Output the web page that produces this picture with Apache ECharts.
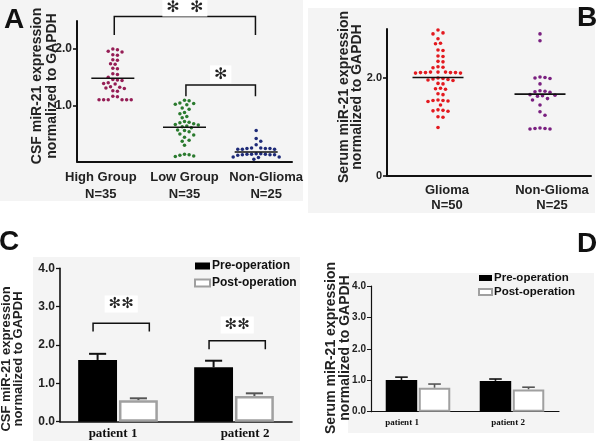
<!DOCTYPE html>
<html><head><meta charset="utf-8">
<script src="https://cdn.jsdelivr.net/npm/echarts@6/dist/echarts.min.js"></script>
<style>html,body{margin:0;padding:0;background:#fff}#c{width:600px;height:441px}</style>
</head><body><div id="c"></div>
<script>
// ---------- DATA ----------
// Panel A (CSF, scatter)
const catsA = ['High Group', 'Low Group', 'Non-Glioma'];
const nA = ['N=35', 'N=35', 'N=25'];
const highGroup = [2.00,1.99,1.96,1.95,1.90,1.89,1.81,1.80,1.74,1.73,1.66,1.65,1.56,1.55,1.50,1.46,1.45,1.44,1.40,1.39,1.38,1.33,1.32,1.31,1.30,1.26,1.25,1.16,1.15,1.10,1.10,1.10,1.10,1.10,1.10];
const lowGroup = [1.09,1.08,1.04,1.03,1.02,1.01,0.95,0.93,0.87,0.85,0.80,0.78,0.71,0.70,0.69,0.67,0.66,0.65,0.63,0.62,0.60,0.56,0.55,0.53,0.49,0.47,0.43,0.38,0.36,0.29,0.13,0.12,0.11,0.10,0.09];
const nonGliomaA = [0.55,0.41,0.36,0.30,0.24,0.24,0.23,0.23,0.23,0.22,0.22,0.22,0.14,0.14,0.13,0.13,0.13,0.12,0.12,0.12,0.11,0.08,0.08,0.07,0.04];
const meansA = [1.48, 0.61, 0.17];
const yTicksA = [1, 2];
// Panel B (Serum, scatter)
const catsB = ['Glioma', 'Non-Glioma'];
const nB = ['N=50', 'N=25'];
const glioma = [2.98,2.92,2.90,2.80,2.71,2.70,2.57,2.56,2.45,2.44,2.34,2.33,2.23,2.22,2.21,2.12,2.12,2.11,2.11,2.11,2.11,2.10,2.10,2.12,2.00,1.99,1.98,1.97,1.96,1.95,1.89,1.88,1.79,1.78,1.77,1.68,1.66,1.55,1.54,1.54,1.53,1.52,1.45,1.35,1.34,1.33,1.32,1.21,1.20,0.99];
const nonGliomaB = [2.90,2.76,2.02,2.01,2.00,1.99,1.88,1.74,1.73,1.72,1.71,1.66,1.65,1.64,1.63,1.58,1.55,1.45,1.31,1.24,0.98,0.97,0.96,0.96,0.97];
const meansB = [2.01, 1.67];
const yTicksB = [0, 2];
// Panel C (CSF, bars)
const patients = ['patient 1', 'patient 2'];
const preC = [1.61, 1.42], preCsem = [0.16, 0.17];
const postC = [0.56, 0.67], postCsem = [0.05, 0.07];
// Panel D (Serum, bars)
const preD = [1.01, 0.98], preDsem = [0.09, 0.06];
const postD = [0.76, 0.71], postDsem = [0.12, 0.07];
// significance brackets: [fromCat, toCat, topValue, legBottomValue, starValue, label]
const bracketsA = [[0, 2, 2.58, 2.25, 2.74, '\u273B  \u273B'], [1, 2, 1.36, 1.16, 1.55, '\u273B']];
const bracketsC = [[0, 0, 2.57, 2.35, 3.07, '\u273B\u273B'], [1, 1, 2.11, 1.89, 2.52, '\u273B\u273B']];

// ---------- RENDER ----------
const FF = '"Liberation Sans", Arial, sans-serif';
const SERIF = '"Liberation Serif", "Times New Roman", serif';
const chart = echarts.init(document.getElementById('c'), null, {renderer: 'canvas'});

// horizontal nudges (px) of the category labels, as in the original figure
const shiftA = [-12, 0, 10], shiftB = [9, 12], shiftC = [-5, 11], shiftD = [-16, -4];
function labelItems(texts, shifts) {
  return texts.map((t, i) => ({value: t, textStyle: {padding: shifts[i] > 0 ? [0, 0, 0, 2 * shifts[i]] : [0, -2 * shifts[i], 0, 0]}}));
}

function swarm(vals, ppu, d) {
  const order = vals.map((v, i) => i).sort((a, b) => vals[b] - vals[a]);
  const placed = [], off = [];
  for (const i of order) {
    const y = vals[i] * ppu;
    let k = 0, x = 0;
    while (k < 200) {
      x = k === 0 ? 0 : (k % 2 === 1 ? 1 : -1) * Math.ceil(k / 2) * d * 0.5;
      if (placed.every(p => (p[0] - x) ** 2 + (p[1] - y) ** 2 >= d * d * 0.97)) break;
      k++;
    }
    placed.push([x, y]); off[i] = x;
  }
  return off;
}
const cache = {};
function swarmSeries(groups, colors, d, r, xi) {
  const data = [];
  groups.forEach((vals, g) => vals.forEach((v, i) => data.push([g, v, i])));
  return {
    type: 'custom', xAxisIndex: xi, yAxisIndex: xi, data, clip: false,
    encode: {x: 0, y: 1},
    renderItem(params, api) {
      const g = api.value(0), v = api.value(1), i = api.value(2);
      const key = xi + '_' + g;
      if (!cache[key]) {
        const ppu = api.coord([0, 0])[1] - api.coord([0, 1])[1];
        cache[key] = swarm(groups[g], ppu, d);
      }
      const c = api.coord([g, v]);
      return {type: 'circle', shape: {cx: c[0] + cache[key][i], cy: c[1], r}, style: {fill: colors[g]}};
    }
  };
}
function meanSeries(means, frac, xi) {
  return {
    type: 'custom', xAxisIndex: xi, yAxisIndex: xi, clip: false,
    data: means.map((m, g) => [g, m]), encode: {x: 0, y: 1}, z: 3,
    renderItem(params, api) {
      const c = api.coord([api.value(0), api.value(1)]);
      const hw = api.size([1, 0])[0] * frac;
      return {type: 'line', shape: {x1: c[0] - hw, y1: c[1], x2: c[0] + hw, y2: c[1]}, style: {stroke: '#111', lineWidth: 1.6}};
    }
  };
}
function bracketSeries(list, xi, lfrac, rfrac, fontSize, lw) {
  return {
    type: 'custom', xAxisIndex: xi, yAxisIndex: xi, clip: false, z: 4,
    data: list.map(b => b.slice(0, 5)), encode: {x: 0, y: 2},
    renderItem(params, api) {
      const b = list[params.dataIndex];
      const band = api.size([1, 0])[0];
      const x1 = api.coord([b[0], 0])[0] + lfrac * band;
      const x2 = api.coord([b[1], 0])[0] + rfrac * band;
      const yt = api.coord([0, b[2]])[1], yb = api.coord([0, b[3]])[1], ys = api.coord([0, b[4]])[1];
      return {type: 'group', children: [
        {type: 'polyline', shape: {points: [[x1, yb], [x1, yt], [x2, yt], [x2, yb]]}, style: {stroke: '#111', lineWidth: lw, fill: null}},
        {type: 'text', x: (x1 + x2) / 2, y: ys, style: {text: b[5], fontSize, fontFamily: '"DejaVu Sans"', fill: '#222', align: 'center', verticalAlign: 'middle', backgroundColor: '#fff', padding: [1, 4]}}
      ]};
    }
  };
}
const BW = 0.335, GAP = 0.05;
function errSeries(pre, preSem, post, postSem, xi, capFrac, lw) {
  const data = [];
  pre.forEach((m, g) => data.push([g, m, preSem[g], 0]));
  post.forEach((m, g) => data.push([g, m, postSem[g], 1]));
  return {
    type: 'custom', xAxisIndex: xi, yAxisIndex: xi, data, z: 1, encode: {x: 0, y: 1},
    renderItem(params, api) {
      const g = api.value(0), m = api.value(1), s = api.value(2), side = api.value(3);
      const band = api.size([1, 0])[0];
      const bw = band * BW;
      const x = api.coord([g, m])[0] + (side ? 1 : -1) * bw * (1 + GAP) / 2;
      const y0 = api.coord([g, m])[1], y1 = api.coord([g, m + s])[1];
      const hc = bw * capFrac;
      const col = side ? '#555' : '#111';
      return {type: 'group', children: [
        {type: 'line', shape: {x1: x, y1: y0, x2: x, y2: y1}, style: {stroke: col, lineWidth: lw}},
        {type: 'line', shape: {x1: x - hc, y1: y1, x2: x + hc, y2: y1}, style: {stroke: col, lineWidth: lw}}
      ]};
    }
  };
}
function catAxis(gi, data, labelOpt, lw, tickLen) {
  return {type: 'category', gridIndex: gi, data, boundaryGap: true,
    axisLine: {lineStyle: {color: '#111', width: lw}},
    axisTick: {alignWithLabel: true, length: tickLen, lineStyle: {color: '#111', width: lw * 0.8}},
    axisLabel: Object.assign({color: '#222', fontWeight: 'bold', fontFamily: FF, interval: 0, hideOverlap: false}, labelOpt),
    splitLine: {show: false}};
}
function valAxis(gi, max, interval, custom, fmt, fs, lw) {
  const ax = {type: 'value', gridIndex: gi, min: 0, max, interval,
    axisLine: {show: true, lineStyle: {color: '#111', width: lw}},
    axisTick: {show: true, length: 4, lineStyle: {color: '#111', width: lw * 0.8}},
    axisLabel: {color: '#222', fontWeight: 'bold', fontFamily: FF, fontSize: fs, margin: 5, formatter: fmt},
    splitLine: {show: false}};
  if (custom) { ax.axisTick.customValues = custom; ax.axisLabel.customValues = custom; }
  return ax;
}
const fmt1 = v => v.toFixed(1);
const fmtB = v => v === 0 ? '0' : v.toFixed(1);

const option = {
  animation: false,
  backgroundColor: '#fff',
  grid: [
    {left: 77, top: 21, width: 215, height: 140.5, outerBoundsMode: 'none'},
    {left: 387, top: 29, width: 204, height: 147, outerBoundsMode: 'none'},
    {left: 60, top: 268.3, width: 232, height: 153.4, outerBoundsMode: 'none'},
    {left: 371, top: 286, width: 188, height: 125.7, outerBoundsMode: 'none'}
  ],
  xAxis: [
    catAxis(0, labelItems(catsA.map((c, i) => c + '\n' + nA[i]), shiftA), {fontSize: 13, lineHeight: 17, margin: 7}, 2, 5),
    catAxis(1, labelItems(catsB.map((c, i) => c + '\n' + nB[i]), shiftB), {fontSize: 13, lineHeight: 15, margin: 7}, 2, 4),
    catAxis(2, labelItems(patients, shiftC), {fontSize: 13, fontFamily: SERIF, color: '#111', margin: 5}, 1.6, 4),
    catAxis(3, labelItems(patients, shiftD), {fontSize: 9, fontFamily: SERIF, color: '#111', margin: 6}, 1.2, 3)
  ],
  yAxis: [
    valAxis(0, 2.5, 1, yTicksA, fmt1, 12, 2),
    valAxis(1, 3, 1, yTicksB, fmtB, 11, 2),
    valAxis(2, 4, 1, null, fmt1, 12, 1.6),
    valAxis(3, 4, 1, null, fmt1, 10, 1.2)
  ],
  legend: [
    {left: 194, top: 260, padding: 0, orient: 'vertical', itemWidth: 15, itemHeight: 7, itemGap: 5,
     data: ['Pre-operation', 'Post-operation'], icon: 'rect', selectedMode: false,
     textStyle: {fontSize: 12, fontWeight: 'bold', fontFamily: FF, color: '#111', padding: [0, 0, 0, -3]}},
    {left: 478, top: 272, padding: 0, orient: 'vertical', itemWidth: 13, itemHeight: 6, itemGap: 2,
     data: ['Pre-operation', 'Post-operation'], icon: 'rect', selectedMode: false,
     textStyle: {fontSize: 11.5, fontWeight: 'bold', fontFamily: FF, color: '#111', padding: [0, 0, 0, -3]}}
  ],
  graphic: [
    {type: 'rect', z: -10, shape: {x: 0, y: 0, width: 303, height: 201}, style: {fill: '#f4f4f4'}},
    {type: 'rect', z: -10, shape: {x: 308, y: 8, width: 287, height: 205}, style: {fill: '#f4f4f4'}},
    {type: 'rect', z: -10, shape: {x: 33, y: 257, width: 267, height: 184}, style: {fill: '#f4f4f4'}},
    {type: 'rect', z: -10, shape: {x: 348, y: 273, width: 246, height: 160}, style: {fill: '#f4f4f4'}},
    {type: 'text', x: 44.5, y: 86, rotation: Math.PI / 2, style: {text: 'CSF miR-21 expression\nnormalized to GAPDH', font: 'bold 14px ' + FF, fill: '#222', align: 'center', verticalAlign: 'middle', lineHeight: 15}},
    {type: 'text', x: 350.5, y: 97, rotation: Math.PI / 2, style: {text: 'Serum miR-21 expression\nnormalized to GAPDH', font: 'bold 14px ' + FF, fill: '#222', align: 'center', verticalAlign: 'middle', lineHeight: 13.5}},
    {type: 'text', x: 12.5, y: 359, rotation: Math.PI / 2, style: {text: 'CSF miR-21 expression\nnormalized to GAPDH', font: 'bold 13px ' + FF, fill: '#222', align: 'center', verticalAlign: 'middle', lineHeight: 12.5}},
    {type: 'text', x: 338, y: 348, rotation: Math.PI / 2, style: {text: 'Serum miR-21 expression\nnormalized to GAPDH', font: 'bold 14px ' + FF, fill: '#222', align: 'center', verticalAlign: 'middle', lineHeight: 14}},
    {type: 'text', x: 14, y: 20, style: {text: 'A', font: 'bold 28px ' + FF, fill: '#111', align: 'center', verticalAlign: 'middle'}},
    {type: 'text', x: 587, y: 18, style: {text: 'B', font: 'bold 28px ' + FF, fill: '#111', align: 'center', verticalAlign: 'middle'}},
    {type: 'text', x: 9, y: 242, style: {text: 'C', font: 'bold 28px ' + FF, fill: '#111', align: 'center', verticalAlign: 'middle'}},
    {type: 'text', x: 587, y: 244, style: {text: 'D', font: 'bold 28px ' + FF, fill: '#111', align: 'center', verticalAlign: 'middle'}}
  ],
  series: [
    swarmSeries([highGroup, lowGroup, nonGliomaA], ['#951d55', '#2a7a2e', '#1e2a78'], 4.6, 1.75, 0),
    meanSeries(meansA, 0.3, 0),
    bracketSeries(bracketsA, 0, 0.02, -0.01, 16, 1.5),
    swarmSeries([glioma, nonGliomaB], ['#e3191f', '#7a2080'], 5.0, 1.8, 1),
    meanSeries(meansB, 0.25, 1),
    {type: 'bar', name: 'Pre-operation', xAxisIndex: 2, yAxisIndex: 2, data: preC, barWidth: (BW * 100) + '%', barGap: (GAP * 100) + '%', itemStyle: {color: '#000'}, z: 2},
    {type: 'bar', name: 'Post-operation', xAxisIndex: 2, yAxisIndex: 2, data: postC, barWidth: (BW * 100) + '%', barGap: (GAP * 100) + '%', itemStyle: {color: '#fff', borderColor: '#a0a0a0', borderWidth: 2.5}, z: 2},
    errSeries(preC, preCsem, postC, postCsem, 2, 0.22, 2),
    bracketSeries(bracketsC, 2, -0.215, 0.27, 15, 1.5),
    {type: 'bar', name: 'Pre-operation', xAxisIndex: 3, yAxisIndex: 3, data: preD, barWidth: (BW * 100) + '%', barGap: (GAP * 100) + '%', itemStyle: {color: '#000'}, z: 2},
    {type: 'bar', name: 'Post-operation', xAxisIndex: 3, yAxisIndex: 3, data: postD, barWidth: (BW * 100) + '%', barGap: (GAP * 100) + '%', itemStyle: {color: '#fff', borderColor: '#a0a0a0', borderWidth: 2}, z: 2},
    errSeries(preD, preDsem, postD, postDsem, 3, 0.2, 1.6)
  ]
};
chart.setOption(option);
</script>
</body></html>
